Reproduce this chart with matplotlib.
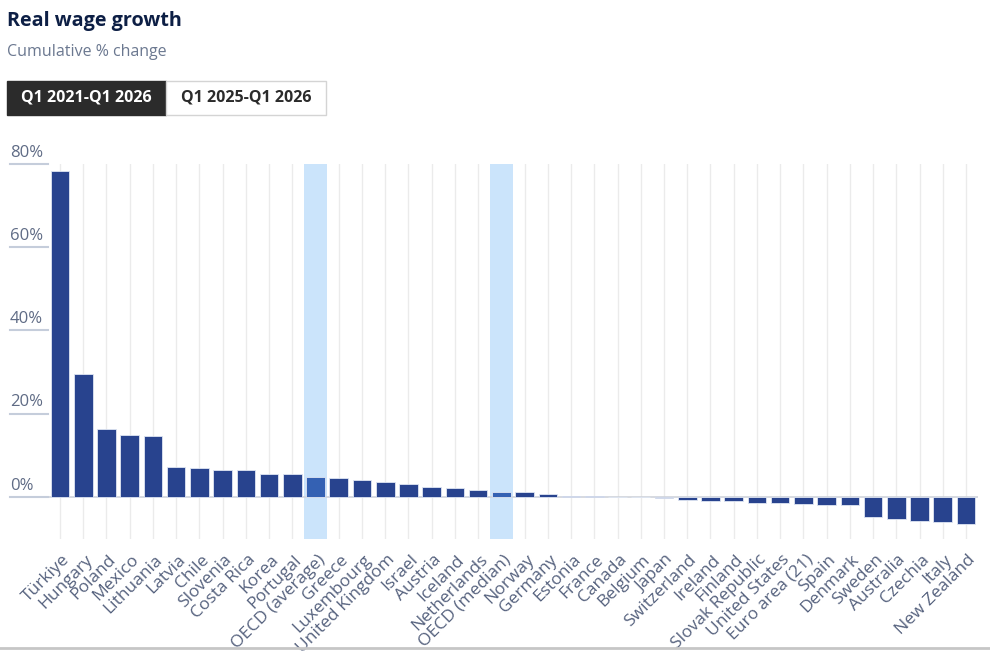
import numpy as np
import matplotlib
matplotlib.use("Agg")
import matplotlib.pyplot as plt
from matplotlib.patches import Rectangle
from matplotlib.lines import Line2D

plt.rcParams['font.family'] = ['Open Sans', 'Noto Sans', 'DejaVu Sans']

countries = ['Türkiye', 'Hungary', 'Poland', 'Mexico', 'Lithuania', 'Latvia', 'Chile',
             'Slovenia', 'Costa Rica', 'Korea', 'Portugal', 'OECD (average)', 'Greece',
             'Luxembourg', 'United Kingdom', 'Israel', 'Austria', 'Iceland', 'Netherlands',
             'OECD (median)', 'Norway', 'Germany', 'Estonia', 'France', 'Canada', 'Belgium',
             'Japan', 'Switzerland', 'Ireland', 'Finland', 'Slovak Republic', 'United States',
             'Euro area (21)', 'Spain', 'Denmark', 'Sweden', 'Australia', 'Czechia', 'Italy',
             'New Zealand']
growth = [78.4, 29.6, 16.4, 15.0, 14.7, 7.3, 6.9, 6.5, 6.4, 5.6, 5.5, 4.8, 4.6,
          4.0, 3.5, 3.2, 2.5, 2.2, 1.6, 1.2, 1.1, 0.8, 0.15, 0.12, 0.05, 0.0,
          -0.15, -0.8, -1.0, -1.0, -1.4, -1.4, -1.8, -2.0, -2.0, -4.9, -5.2, -5.8, -6.1,
          -6.5]
highlight = ['OECD (average)', 'OECD (median)']
yticks = [0, 20, 40, 60, 80]

bar_col = '#28438e'
hl_bar_col = '#3461b3'
band_col = '#cbe4fb'
label_col = '#56627e'

fig = plt.figure(figsize=(9.9, 6.52), dpi=100)
W, H = 990, 652
ax = fig.add_axes([48.4 / W, (H - 538.6) / H, (977.6 - 48.4) / W, (538.6 - 164) / H])

x = np.arange(len(countries))
ax.set_xlim(-0.5, len(countries) - 0.5)
ax.set_ylim(-10, 80)

# vertical category lines
for xi in x:
    ax.axvline(xi, color='#ebebeb', lw=1, zorder=0)
# highlight bands
for name in highlight:
    i = countries.index(name)
    ax.axvspan(i - 0.5, i + 0.5, color=band_col, zorder=0.5, lw=0)

cols = [hl_bar_col if c in highlight else bar_col for c in countries]
ax.bar(x, growth, width=0.8, color=cols, edgecolor='#dfe6f3', linewidth=0.6, zorder=2)
ax.axhline(0, color='#cfd3da', lw=1.2, zorder=1.5)

for s in ax.spines.values():
    s.set_visible(False)
ax.set_yticks([])
ax.set_xticks(x)
ax.set_xticklabels([])
ax.tick_params(axis='x', length=0)

# y labels with short underline at the left
ytr = ax.get_yaxis_transform()
x0 = (10 - 48.4) / (977.6 - 48.4)
for v in yticks:
    ax.add_line(Line2D([x0, 0], [v, v], transform=ytr, color='#c5cddb', lw=1.5, clip_on=False))
    ax.text(x0, v + 0.8, f'{v}%', transform=ytr, ha='left', va='bottom',
            fontsize=12, color='#5f6b85')

# rotated category labels
xtr = ax.get_xaxis_transform()
for xi, name in zip(x, countries):
    ax.text(xi + 0.3, -0.05, name, transform=xtr, rotation=45, rotation_mode='anchor',
            ha='right', va='center', fontsize=12.5, color=label_col)

# title and subtitle
fig.text(7 / W, 1 - 21 / H, 'Real wage growth', fontsize=14.2, fontweight='bold',
         color='#0d1f45', va='center', ha='left')
fig.text(7 / W, 1 - 52 / H, 'Cumulative % change', fontsize=11.5, color='#6b7890',
         va='center', ha='left')

# toggle buttons
fig.add_artist(Rectangle((7 / W, 1 - 115 / H), 159 / W, 34 / H, transform=fig.transFigure,
                         facecolor='#2b2b2b', edgecolor='#2b2b2b', lw=1))
fig.add_artist(Rectangle((166 / W, 1 - 115 / H), 160 / W, 34 / H, transform=fig.transFigure,
                         facecolor='white', edgecolor='#d4d4d4', lw=1))
fig.text(86.5 / W, 1 - 98 / H, 'Q1 2021-Q1 2026', fontsize=11.5, fontweight='bold',
         color='white', ha='center', va='center')
fig.text(246 / W, 1 - 98 / H, 'Q1 2025-Q1 2026', fontsize=11.5, fontweight='bold',
         color='#2b2b2b', ha='center', va='center')

# bottom border
fig.add_artist(Line2D([0, 1], [1 - 648 / H, 1 - 648 / H], transform=fig.transFigure,
                      color='#c6c6c6', lw=2))

fig.savefig('out.png', dpi=100)
